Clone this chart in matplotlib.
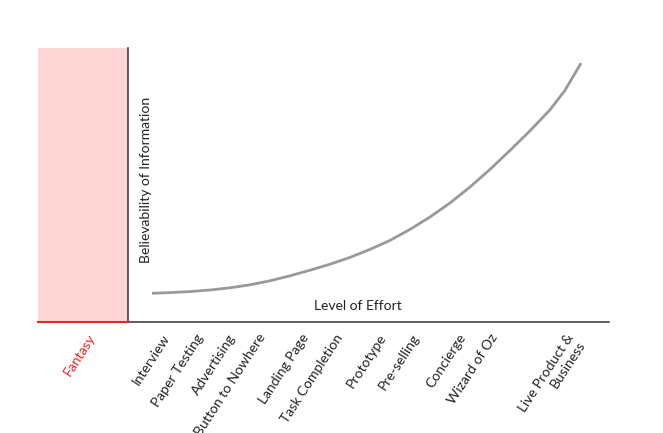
import matplotlib
matplotlib.use("Agg")
import matplotlib.pyplot as plt

# Believability curve (arbitrary units, effort 0 at the y axis)
effort = [24, 42, 62, 82, 102, 122, 142, 162, 182, 202, 222, 242,
          262, 282, 302, 322, 342, 362, 382, 402, 422, 437, 453]
believability = [28.7, 29.4, 30.4, 32.0, 34.2, 37.2, 41.2, 46.2, 51.8, 57.8, 64.6, 72.6,
                 81.6, 92.6, 105.0, 119.0, 135.0, 152.6, 171.6, 191.2, 212.2, 231.7, 258.9]

# Methods along the effort axis
methods = ["Fantasy", "Interview", "Paper Testing", "Advertising", "Button to Nowhere",
           "Landing Page", "Task Completion", "Prototype", "Pre-selling", "Concierge",
           "Wizard of Oz", "Live Product &\nBusiness"]
method_effort = [-41, 34, 68, 100, 130, 173, 207, 250, 284, 330, 362, 438]

plt.rcParams['font.family'] = ['Lato', 'DejaVu Sans']

fig = plt.figure(figsize=(6.63, 4.33), dpi=100)
ax = fig.add_axes([38 / 663, (433 - 322) / 433, (609 - 38) / 663, (322 - 48) / 433])
ax.set_xlim(-90, 481)
ax.set_ylim(0, 274)

# fantasy zone
ax.axvspan(-90, 0, color="#ffd6d6", lw=0, zorder=0)
ax.axhline(0, xmin=0, xmax=90 / 571, color="#ee2222", lw=1.5, zorder=3, clip_on=False)

ax.plot(effort, believability, color="#999999", lw=2.0, solid_capstyle="butt")

for s in ["top", "right"]:
    ax.spines[s].set_visible(False)
ax.spines["left"].set_position(("data", 0))
ax.spines["left"].set_color("#333333")
ax.spines["left"].set_linewidth(1.1)
ax.spines["bottom"].set_bounds(0, 481)
ax.spines["bottom"].set_color("#333333")
ax.spines["bottom"].set_linewidth(1.1)

ax.set_yticks([])
ax.set_xticks(method_effort)
ax.set_xticklabels(methods, rotation=57, ha="right", rotation_mode="anchor",
                   multialignment="right", fontsize=10, color="#222222")
ax.tick_params(axis="x", length=0, pad=7)
ax.get_xticklabels()[0].set_color("#ee2222")

ax.text(230, 10, "Level of Effort", ha="center", va="bottom", fontsize=10, color="#222222")
ax.text(18, 142, "Believability of Information", rotation=90, ha="center", va="center",
        fontsize=10, color="#222222")

fig.savefig("out.png", dpi=100)
